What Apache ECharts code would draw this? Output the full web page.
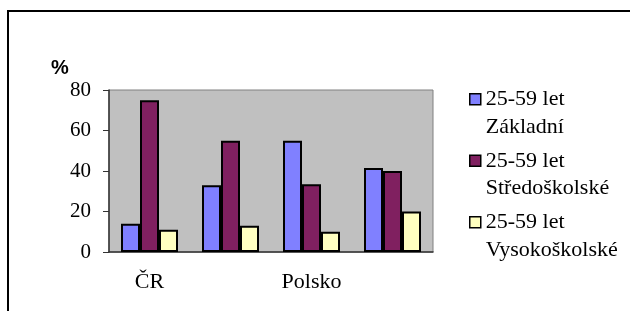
<!DOCTYPE html>
<html>
<head>
<meta charset="utf-8">
<script src="https://cdn.jsdelivr.net/npm/echarts@6/dist/echarts.min.js"></script>
<style>
  html, body { margin: 0; padding: 0; background: #fff; }
  #chart { width: 630px; height: 311px; }
</style>
</head>
<body>
<div id="chart"></div>
<script>
// kategorie (popisky jen u ČR a Polsko)
const categories = ["ČR", "", "Polsko", ""];
// názvy řad
const seriesNames = ["25-59 let\nZákladní", "25-59 let\nStředoškolské", "25-59 let\nVysokoškolské"];
// hodnoty v %
const zakladni = [14, 33, 55, 41.5];
const stredoskolske = [75, 55, 33.5, 40];
const vysokoskolske = [11, 13, 10, 20];
const colors = ["#8080FF", "#802060", "#FFFFC0"];

const serif = "'Liberation Serif', 'Times New Roman', serif";
const myChart = echarts.init(document.getElementById("chart"));

const makeSeries = (name, data, color) => ({
  name: name,
  type: "bar",
  data: data,
  barWidth: 19,
  barGap: "0%",
  itemStyle: { color: color, borderColor: "#000", borderWidth: 2 },
});

let option = {
  animation: false,
  backgroundColor: "#fff",
  title: {
    text: "%",
    left: 51,
    top: 58,
    padding: 0,
    textStyle: { fontFamily: "'Liberation Sans', Arial, sans-serif", fontWeight: "bold", fontSize: 20, color: "#000" },
  },
  legend: {
    orient: "vertical",
    left: 469,
    top: 58,
    padding: 0,
    itemGap: -21,
    itemWidth: 11,
    itemHeight: 11,
    icon: "rect",
    // prázdný první řádek, aby ikona seděla u prvního řádku textu
    formatter: (name) => "\n" + name,
    itemStyle: { borderColor: "#000", borderWidth: 1.5 },
    textStyle: { fontFamily: serif, fontSize: 22, lineHeight: 27.5, color: "#000" },
  },
  grid: {
    left: 109,
    right: 197,
    top: 90,
    bottom: 59,
    show: true,
    backgroundColor: "#C0C0C0",
    borderColor: "#808080",
    borderWidth: 1,
  },
  xAxis: [
    {
      type: "category",
      data: categories,
      axisLine: { lineStyle: { color: "#333", width: 1.5 } },
      axisTick: { length: 6, lineStyle: { color: "#333" } },
      axisLabel: { margin: 19, interval: 0, fontFamily: serif, fontSize: 22, color: "#000" },
    },
    {
      // křížové značky nad osou
      type: "category",
      data: categories,
      position: "bottom",
      axisLine: { show: false },
      axisTick: { inside: true, length: 5, lineStyle: { color: "#333" } },
      axisLabel: { show: false },
    },
  ],
  yAxis: {
    type: "value",
    min: 0,
    max: 80,
    interval: 20,
    axisLine: { show: true, lineStyle: { color: "#333", width: 1.5 } },
    axisTick: { show: true, length: 6, lineStyle: { color: "#333" } },
    splitLine: { show: false },
    axisLabel: { margin: 18, fontFamily: serif, fontSize: 21, color: "#000" },
  },
  series: [
    makeSeries(seriesNames[0], zakladni, colors[0]),
    makeSeries(seriesNames[1], stredoskolske, colors[1]),
    makeSeries(seriesNames[2], vysokoskolske, colors[2]),
  ],
  graphic: [
    {
      type: "rect",
      shape: { x: 8, y: 11, width: 700, height: 400 },
      style: { fill: "none", stroke: "#000", lineWidth: 2 },
      silent: true,
    },
  ],
};

option && myChart.setOption(option);
</script>
</body>
</html>
